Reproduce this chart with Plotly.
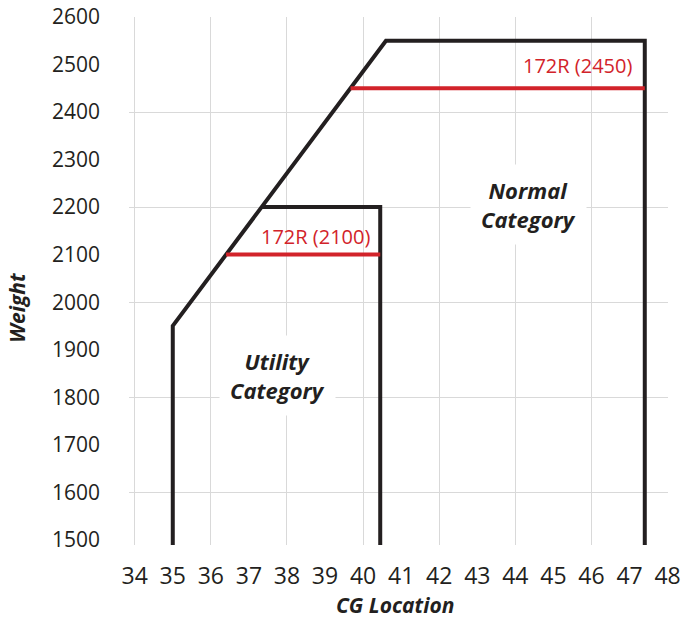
import plotly.graph_objects as go

# ---- data ----
normal_x = [35.0, 35.0, 40.6, 47.4, 47.4]
normal_y = [1400, 1950, 2550, 2550, 1400]
utility_x = [37.33, 40.45, 40.45]
utility_y = [2200, 2200, 1400]
r2100_x = [36.4, 40.45]
r2100_y = [2100, 2100]
r2450_x = [39.67, 47.4]
r2450_y = [2450, 2450]

x_ticks = list(range(34, 49))
y_ticks = list(range(1500, 2601, 100))
x_range = [33.85, 48.01]
y_range = [1489, 2600]

labels = {
    "r2100": ("172R (2100)", 40.24, 2138),
    "r2450": ("172R (2450)", 47.11, 2498),
    "normal": ("Normal<br>Category", 44.34, 2205),
    "utility": ("Utility<br>Category", 37.74, 1845),
}

BLACK = "#231f20"
RED = "#d2232a"
GRID = "#d9d9d9"
FONT = "Open Sans"

fig = go.Figure()
fig.add_trace(go.Scatter(x=normal_x, y=normal_y, mode="lines",
                         line=dict(color=BLACK, width=4), showlegend=False, hoverinfo="skip"))
fig.add_trace(go.Scatter(x=utility_x, y=utility_y, mode="lines",
                         line=dict(color=BLACK, width=4), showlegend=False, hoverinfo="skip"))
fig.add_trace(go.Scatter(x=r2100_x, y=r2100_y, mode="lines",
                         line=dict(color=RED, width=4), showlegend=False, hoverinfo="skip"))
fig.add_trace(go.Scatter(x=r2450_x, y=r2450_y, mode="lines",
                         line=dict(color=RED, width=4), showlegend=False, hoverinfo="skip"))
# empty trace to bind the labelling overlay axes
fig.add_trace(go.Scatter(x=[None], y=[None], xaxis="x2", yaxis="y2",
                         mode="lines", showlegend=False, hoverinfo="skip"))

for key in ("r2100", "r2450"):
    t, x, y = labels[key]
    fig.add_annotation(x=x, y=y, text=t, showarrow=False, xanchor="right", yanchor="middle",
                       font=dict(family=FONT, size=20, color=RED))
for key in ("normal", "utility"):
    t, x, y = labels[key]
    fig.add_annotation(x=x, y=y, text=t, showarrow=False, xanchor="center", yanchor="middle",
                       font=dict(family=FONT, size=22, color=BLACK, weight="bold", style="italic"),
                       bgcolor="white", borderpad=10)

fig.add_annotation(xref="paper", yref="paper", x=0.494, y=-0.1415, text="CG Location",
                   showarrow=False, xanchor="center", yanchor="bottom", borderpad=0,
                   font=dict(family=FONT, size=21, color=BLACK, weight="bold", style="italic"))
fig.add_annotation(xref="paper", yref="paper", x=-0.208, y=0.451, text="Weight", textangle=-90,
                   showarrow=False, xanchor="center", yanchor="middle", borderpad=0,
                   font=dict(family=FONT, size=21, color=BLACK, weight="bold", style="italic"))

fig.update_layout(
    width=681, height=620,
    margin=dict(l=129, r=13, t=17, b=75, autoexpand=False),
    plot_bgcolor="white", paper_bgcolor="white",
    xaxis=dict(range=x_range, tick0=0, dtick=2, showgrid=True, gridcolor=GRID, gridwidth=1.3,
               showticklabels=False, zeroline=False, showline=False, ticks="", automargin=False),
    yaxis=dict(range=y_range, tick0=0, dtick=200, showgrid=True, gridcolor=GRID, gridwidth=1.3,
               showticklabels=False, zeroline=False, showline=False, ticks="", automargin=False),
    xaxis2=dict(range=x_range, overlaying="x", anchor="y2", side="bottom", tickvals=x_ticks,
                showgrid=False, zeroline=False, showline=False, ticks="", automargin=False,
                ticklabelstandoff=15, ticklabeloverflow="allow",
                tickfont=dict(family=FONT, size=23, color=BLACK)),
    yaxis2=dict(range=y_range, overlaying="y", anchor="x2", side="left", tickvals=y_ticks,
                showgrid=False, zeroline=False, showline=False, ticks="", automargin=False,
                ticklabelstandoff=28, ticklabeloverflow="allow",
                tickfont=dict(family=FONT, size=21, color=BLACK)),
    showlegend=False,
)

fig.write_html("out.html", config={"displayModeBar": False},
               post_script="document.body.style.margin='0';")
